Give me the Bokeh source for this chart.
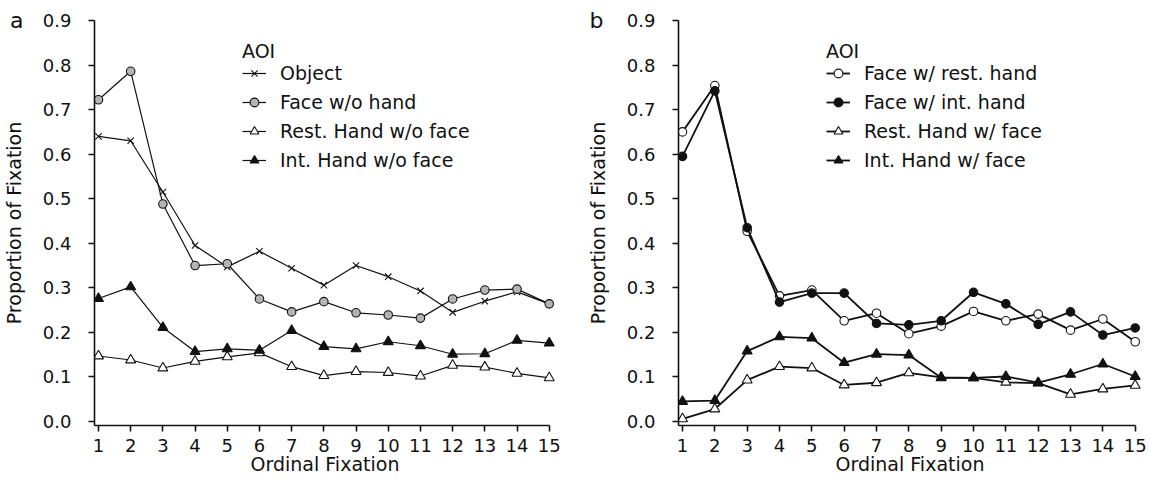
from bokeh.plotting import figure
from bokeh.layouts import row
from bokeh.models import (Range1d, Legend, LegendItem, FixedTicker, LinearAxis,
                          NumeralTickFormatter, CustomJSTickFormatter)
from bokeh.embed import file_html
from bokeh.resources import INLINE

# ---------------- data ----------------
fixation = [1, 2, 3, 4, 5, 6, 7, 8, 9, 10, 11, 12, 13, 14, 15]
x_ticks = [1, 2, 3, 4, 5, 6, 7, 8, 9, 10, 11, 12, 13, 14, 15]
y_ticks = [0.0, 0.1, 0.2, 0.3, 0.4, 0.5, 0.6, 0.7, 0.8, 0.9]

# panel a
labels_a = ["Object", "Face w/o hand", "Rest. Hand w/o face", "Int. Hand w/o face"]
object_a = [0.640, 0.630, 0.515, 0.395, 0.347, 0.382, 0.344, 0.306, 0.350, 0.325,
            0.293, 0.245, 0.270, 0.291, 0.264]
face_wo_hand = [0.722, 0.786, 0.488, 0.350, 0.354, 0.275, 0.246, 0.269, 0.244, 0.239,
                0.232, 0.275, 0.295, 0.297, 0.264]
rest_hand_wo_face = [0.147, 0.138, 0.120, 0.135, 0.145, 0.154, 0.123, 0.103, 0.112, 0.110,
                     0.102, 0.126, 0.122, 0.108, 0.098]
int_hand_wo_face = [0.276, 0.302, 0.211, 0.157, 0.163, 0.160, 0.204, 0.168, 0.163, 0.179,
                    0.170, 0.151, 0.152, 0.182, 0.176]

# panel b
labels_b = ["Face w/ rest. hand", "Face w/ int. hand", "Rest. Hand w/ face", "Int. Hand w/ face"]
face_w_rest_hand = [0.650, 0.754, 0.427, 0.282, 0.295, 0.226, 0.243, 0.197, 0.214, 0.247,
                    0.226, 0.241, 0.205, 0.230, 0.179]
face_w_int_hand = [0.595, 0.742, 0.435, 0.268, 0.288, 0.288, 0.220, 0.217, 0.226, 0.290,
                   0.264, 0.218, 0.246, 0.194, 0.210]
rest_hand_w_face = [0.006, 0.028, 0.093, 0.123, 0.120, 0.082, 0.087, 0.109, 0.099, 0.098,
                    0.088, 0.086, 0.061, 0.073, 0.081]
int_hand_w_face = [0.045, 0.047, 0.158, 0.190, 0.187, 0.132, 0.151, 0.149, 0.098, 0.098,
                   0.101, 0.087, 0.106, 0.129, 0.101]

FONT = "DejaVu Sans"
INK = "#111111"
GRAY = "#b4b4b4"
marker_size = {"x": 9, "circle": 8.5, "triangle": 10}

X_START = 0.8763
X_END = 15.195
Y_START = -0.009
Y_END = 0.9


def make_panel(letter, series, line_w, width, min_left, min_right,
               letter_standoff, title_standoff):
    p = figure(width=width, height=479,
               min_border_left=min_left, min_border_right=min_right,
               min_border_top=20, min_border_bottom=54,
               x_range=Range1d(X_START, X_END), y_range=Range1d(Y_START, Y_END),
               output_backend="svg", toolbar_location=None)
    p.outline_line_color = None
    p.grid.visible = False
    p.background_fill_color = "white"
    p.border_fill_color = "white"

    p.xaxis.bounds = (X_START, 15)
    p.xaxis.ticker = FixedTicker(ticks=x_ticks)
    p.yaxis.ticker = FixedTicker(ticks=y_ticks)
    p.yaxis.formatter = NumeralTickFormatter(format="0.0")
    for ax in (p.xaxis, p.yaxis):
        ax.axis_line_color = INK
        ax.axis_line_width = 1.6
        ax.major_tick_line_color = INK
        ax.major_tick_line_width = 1.6
        ax.major_tick_in = 0
        ax.major_tick_out = 6
        ax.minor_tick_line_color = None
        ax.major_label_text_font = FONT
        ax.major_label_text_font_size = "18px"
        ax.major_label_text_color = INK
    p.xaxis.major_label_standoff = 7
    p.yaxis.major_label_standoff = 17
    p.xaxis.axis_label = "Ordinal Fixation"
    p.xaxis.axis_label_standoff = -2
    p.xaxis.axis_label_text_font = FONT
    p.xaxis.axis_label_text_font_size = "19px"
    p.xaxis.axis_label_text_font_style = "normal"
    p.xaxis.axis_label_text_color = INK

    # outer left axis: panel letter and y title
    outer = LinearAxis(ticker=FixedTicker(ticks=[0.9]),
                       formatter=CustomJSTickFormatter(code="return '%s'" % letter),
                       bounds=(-0.015, 0.9),
                       axis_line_color=None, major_tick_line_color=None,
                       minor_tick_line_color=None, major_tick_in=0, major_tick_out=0,
                       major_label_standoff=letter_standoff,
                       major_label_text_font=FONT, major_label_text_font_size="22px",
                       major_label_text_color=INK,
                       axis_label="Proportion of Fixation",
                       axis_label_standoff=title_standoff,
                       axis_label_text_font=FONT, axis_label_text_font_size="19px",
                       axis_label_text_font_style="normal", axis_label_text_color=INK)
    p.add_layout(outer, "left")

    items = []
    for lab, ys, marker, fill in series:
        ln = p.line(fixation, ys, line_color=INK, line_width=line_w)
        sc = p.scatter(fixation, ys, marker=marker, size=marker_size[marker],
                       fill_color=fill, line_color=INK, line_width=1.1)
        items.append(LegendItem(label=lab, renderers=[ln, sc]))

    legend = Legend(items=items, title="AOI", location=(148, 254),
                    title_text_font=FONT, title_text_font_size="19px",
                    title_text_font_style="normal", title_text_color=INK,
                    title_standoff=0,
                    label_text_font=FONT, label_text_font_size="19px",
                    label_text_color=INK,
                    glyph_width=24, glyph_height=22, label_height=22,
                    label_standoff=14, spacing=7, padding=0, margin=0,
                    border_line_color=None, background_fill_alpha=0)
    p.add_layout(legend)
    return p


series_a = [
    (labels_a[0], object_a, "x", "white"),
    (labels_a[1], face_wo_hand, "circle", GRAY),
    (labels_a[2], rest_hand_wo_face, "triangle", "white"),
    (labels_a[3], int_hand_wo_face, "triangle", INK),
]
series_b = [
    (labels_b[0], face_w_rest_hand, "circle", "white"),
    (labels_b[1], face_w_int_hand, "circle", INK),
    (labels_b[2], rest_hand_w_face, "triangle", "white"),
    (labels_b[3], int_hand_w_face, "triangle", INK),
]

pa = make_panel("a", series_a, 1.2, 578, 92, 23, 16, -18)
pb = make_panel("b", series_b, 1.8, 569, 100, 6, 20, -22)

layout = row(pa, pb)
with open("out.html", "w") as f:
    f.write(file_html(layout, INLINE))
